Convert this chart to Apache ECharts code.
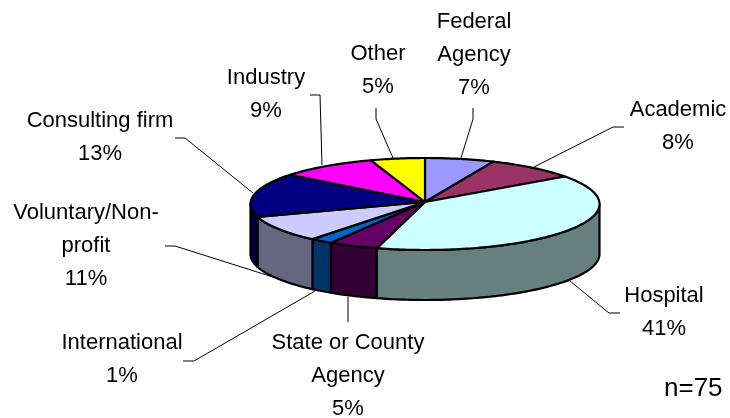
<!DOCTYPE html>
<html>
<head>
<meta charset="utf-8">
<title>Employment setting</title>
<style>
  html, body { margin: 0; padding: 0; background: #fff; }
  #chart { width: 730px; height: 418px; }
</style>
</head>
<body>
<div id="chart"></div>
<script src="https://cdn.jsdelivr.net/npm/echarts@6/dist/echarts.min.js"></script>
<script>
var categories = ['Federal\nAgency', 'Academic', 'Hospital', 'State or County\nAgency', 'International', 'Voluntary/Non-\nprofit', 'Consulting firm', 'Industry', 'Other']
var percents = [7, 8, 41, 5, 1, 11, 13, 9, 5]
// share of the circle each slice takes as drawn (the tilted pie squeezes them a bit vs the printed %)
var drawnShares = [6.4, 8.4, 39.6, 4.6, 2.1, 9.3, 15.5, 9, 5]
var topColors = ['#9999ff', '#993366', '#ccffff', '#660066', '#0066cc', '#ccccff', '#000080', '#ff00ff', '#ffff00']
var sideColors = ['#4d4d80', '#4d1a33', '#668080', '#330033', '#003366', '#666680', '#000040', '#800080', '#808000']

var pie = {cx: 425, cy: 204, rx: 174.5, ry: 46, depth: 50, apexY: 202}

// label centre + leader line, same order as categories
var labelLayout = [
  {x: 474, y: 21, leader: [[473, 108], [473, 119], [461, 158]]},
  {x: 678, y: 109, leader: [[624, 127], [613, 127], [534, 167]]},
  {x: 664, y: 295, leader: [[620, 313], [609, 313], [570, 281]]},
  {x: 348, y: 342, leader: [[348, 322], [348, 297]]},
  {x: 122, y: 342, leader: [[183, 361], [194, 361], [315, 291]]},
  {x: 86, y: 212, leader: [[165, 246], [175, 246], [273, 277]]},
  {x: 100, y: 120, leader: [[175, 138], [185, 138], [253, 193]]},
  {x: 266, y: 77, leader: [[310, 95], [320, 95], [322, 165]]},
  {x: 378, y: 53, leader: [[376, 108], [376, 119], [393, 158]]}
]

var total = drawnShares.reduce(function (a, b) { return a + b }, 0)
var slices = []
var acc = 0
drawnShares.forEach(function (v) {
  slices.push([acc / total * Math.PI * 2, (acc + v) / total * Math.PI * 2])
  acc += v
})

function rim(a, drop) {
  return [pie.cx + pie.rx * Math.sin(a), pie.cy - pie.ry * Math.cos(a) + (drop || 0)]
}

function arcPoints(a0, a1, drop) {
  var pts = []
  var n = Math.max(2, Math.ceil((a1 - a0) / 0.02))
  for (var i = 0; i <= n; i++) {
    pts.push(rim(a0 + (a1 - a0) * i / n, drop))
  }
  return pts
}

function renderSide(params, api) {
  // only the front half of the rim shows a wall
  var a0 = Math.max(api.value(0), Math.PI / 2)
  var a1 = Math.min(api.value(1), Math.PI * 1.5)
  if (a1 <= a0) {
    return {type: 'group', children: []}
  }
  var pts = arcPoints(a0, a1, 0).concat(arcPoints(a0, a1, pie.depth).reverse())
  return {
    type: 'polygon',
    shape: {points: pts},
    style: {fill: sideColors[params.dataIndex], stroke: '#000', lineWidth: 2.2, lineJoin: 'round'}
  }
}

function renderTop(params, api) {
  var pts = [[pie.cx, pie.apexY]].concat(arcPoints(api.value(0), api.value(1), 0))
  return {
    type: 'polygon',
    shape: {points: pts},
    style: {fill: topColors[params.dataIndex], stroke: '#000', lineWidth: 2.2, lineJoin: 'round'}
  }
}

function renderLabel(params, api) {
  var i = params.dataIndex
  var lay = labelLayout[i]
  return {
    type: 'group',
    children: [
      {
        type: 'polyline',
        shape: {points: lay.leader},
        style: {fill: 'none', stroke: '#000', lineWidth: 1}
      },
      {
        type: 'text',
        x: lay.x,
        y: lay.y - 16,
        style: {
          text: categories[i] + '\n' + percents[i] + '%',
          font: '22px "Liberation Sans", Arial, sans-serif',
          lineHeight: 33,
          fill: '#000',
          align: 'center',
          verticalAlign: 'top'
        }
      }
    ]
  }
}

var chart = echarts.init(document.getElementById('chart'), null, {renderer: 'canvas'})
chart.setOption({
  animation: false,
  backgroundColor: '#fff',
  series: [
    {type: 'custom', coordinateSystem: 'none', renderItem: renderSide, data: slices, z: 2, silent: true},
    {type: 'custom', coordinateSystem: 'none', renderItem: renderTop, data: slices, z: 3, silent: true},
    {type: 'custom', coordinateSystem: 'none', renderItem: renderLabel, data: categories.map(function (c, i) { return [i] }), z: 1, silent: true}
  ],
  graphic: [{
    type: 'text',
    left: 664,
    top: 376,
    style: {text: 'n=75', font: '26px "Liberation Sans", Arial, sans-serif', fill: '#000'}
  }]
})
</script>
</body>
</html>
